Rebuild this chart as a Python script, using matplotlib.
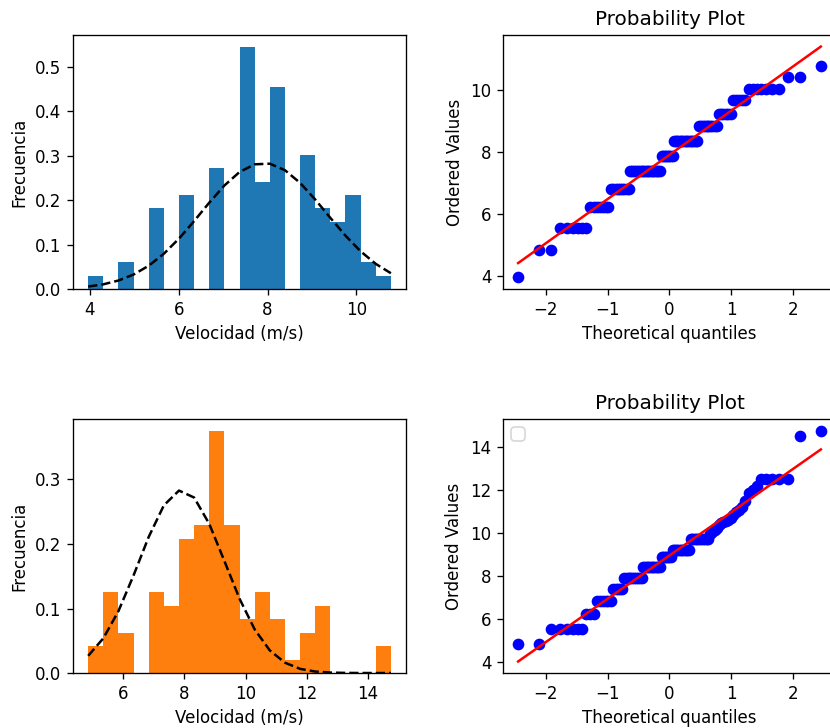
import numpy as np
import matplotlib
matplotlib.use("Agg")
import matplotlib.pyplot as plt
from statistics import NormalDist

# wind speed samples (m/s): distinct levels and how many times each occurs
levels_a = [3.96, 4.85, 5.55, 6.24, 6.82, 7.40, 7.88, 8.35, 8.83, 9.23, 9.67, 10.03, 10.42, 10.78]
counts_a = [1, 2, 6, 7, 9, 18, 8, 15, 10, 6, 5, 7, 2, 1]

levels_b = [4.85, 5.56, 6.26, 6.86, 7.40, 7.90, 8.40, 8.90, 9.20, 9.70,
            9.95, 10.05, 10.15, 10.25, 10.35, 10.45, 10.50, 10.55, 10.60, 10.70,
            10.85, 10.95, 11.05, 11.20, 11.50, 11.85, 12.00, 12.20, 12.50, 14.50, 14.75]
counts_b = [2, 6, 3, 6, 5, 10, 11, 7, 11, 11,
            1, 1, 1, 1, 1, 1, 1, 1, 1, 1,
            1, 1, 1, 1, 1, 1, 1, 1, 5, 1, 1]

n_bins = 20


def probplot(ax, data):
    osr = np.sort(data)
    n = len(osr)
    m = (np.arange(1, n + 1) - 0.3175) / (n + 0.365)
    m[-1] = 0.5 ** (1.0 / n)
    m[0] = 1 - m[-1]
    osm = np.array([NormalDist().inv_cdf(p) for p in m])
    slope, intercept = np.polyfit(osm, osr, 1)
    ax.plot(osm, osr, "bo")
    ax.plot(osm, slope * osm + intercept, "r-")
    ax.set_title("Probability Plot")
    ax.set_xlabel("Theoretical quantiles")
    ax.set_ylabel("Ordered Values")


def main() -> None:
    data_a = np.repeat(levels_a, counts_a)
    data_b = np.repeat(levels_b, counts_b)
    mu, sigma = data_a.mean(), data_a.std()
    norm = NormalDist(mu, sigma)

    dpi = 120
    fig = plt.figure(figsize=(830 / dpi, 728 / dpi), dpi=dpi)
    w, h = 0.4012, 0.3489
    ax1 = fig.add_axes([0.088, 0.603, w, h])
    ax2 = fig.add_axes([0.606, 0.603, w, h])
    ax3 = fig.add_axes([0.088, 0.0755, w, h])
    ax4 = fig.add_axes([0.606, 0.0755, w, h])

    _, bins_a, _ = ax1.hist(data_a, bins=n_bins, density=True, color="C0")
    ax1.plot(bins_a, [norm.pdf(b) for b in bins_a], "k--")
    ax1.set_xlabel("Velocidad (m/s)")
    ax1.set_ylabel("Frecuencia")

    probplot(ax2, data_a)

    _, bins_b, _ = ax3.hist(data_b, bins=n_bins, density=True, color="C1")
    ax3.plot(bins_b, [norm.pdf(b) for b in bins_b], "k--")
    ax3.set_xlabel("Velocidad (m/s)")
    ax3.set_ylabel("Frecuencia")

    probplot(ax4, data_b)
    ax4.legend(handles=[], loc="upper left")

    fig.savefig("out.png", dpi=dpi)


if __name__ == "__main__":
    main()
